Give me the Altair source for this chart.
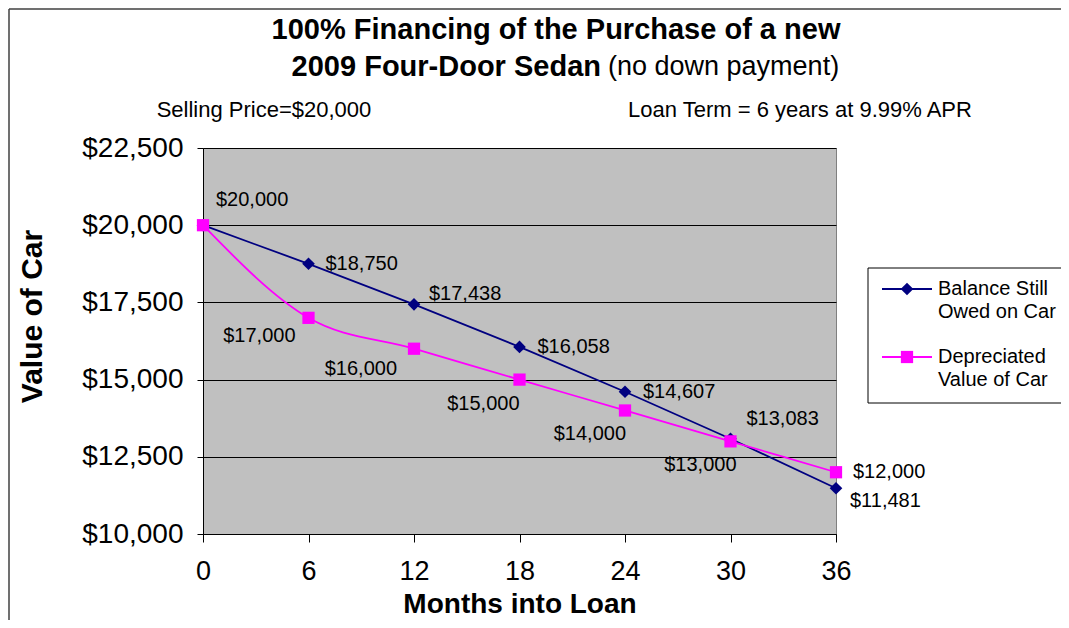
import altair as alt
import pandas as pd

# ---------------- data ----------------
months = [0, 6, 12, 18, 24, 30, 36]
balance = [20000, 18750, 17438, 16058, 14607, 13083, 11481]
depreciated = [20000, 17000, 16000, 15000, 14000, 13000, 12000]
y_ticks = [10000, 12500, 15000, 17500, 20000, 22500]
series_lines = [["Balance Still", "Owed on Car"], ["Depreciated", "Value of Car"]]

# label offsets (pixels) per point: (dx, dy, align); None = no label
bal_offsets = [(13, -25, "left"), (17, 0, "left"), (15, -10, "left"), (18, 0, "left"),
               (18, 0, "left"), (16, -20, "left"), (14, 13, "left")]
dep_offsets = [None, (-13, 18, "right"), (-17, 20, "right"), (0, 24, "right"),
               (1, 24, "right"), (6, 24, "right"), (17, 0, "left")]

FONT = "Liberation Sans"
NAVY = "#000080"
MAGENTA = "#FF00FF"
W, H = 633, 386

df_bal = pd.DataFrame({"month": months, "value": balance,
                       "label": [f"${v:,}" for v in balance], "idx": range(len(months))})
df_dep = pd.DataFrame({"month": months, "value": depreciated,
                       "label": [f"${v:,}" for v in depreciated], "idx": range(len(months))})

x_enc = alt.X("month:Q", scale=alt.Scale(domain=[0, 36], nice=False),
              axis=alt.Axis(values=months, title="Months into Loan", grid=False,
                            labelFont=FONT, labelFontSize=27, labelColor="black",
                            labelFlush=False, labelOverlap=False,
                            labelPadding=16, tickSize=8, tickColor="black",
                            domainColor="black", titleFont=FONT, titleFontSize=28,
                            titleFontWeight="bold", titleColor="black", titlePadding=6))
y_enc = alt.Y("value:Q", scale=alt.Scale(domain=[10000, 22500], nice=False, zero=False),
              axis=alt.Axis(values=y_ticks, format="$,.0f", title="Value of Car", grid=True,
                            gridColor="black", gridWidth=1,
                            labelFont=FONT, labelFontSize=28, labelColor="black",
                            labelFlush=False, labelOverlap=False,
                            labelPadding=14, tickSize=6, tickColor="black",
                            domainColor="black", titleFont=FONT, titleFontSize=30,
                            titleFontWeight="bold", titleColor="black",
                            titleAngle=270, titleX=-171, titleY=168,
                            titleAlign="center", titleBaseline="middle"))

enc = dict(x=x_enc, y=y_enc)

bal_line = alt.Chart(df_bal).mark_line(color=NAVY, strokeWidth=1.8).encode(**enc)
bal_pts = alt.Chart(df_bal).mark_point(shape="diamond", filled=True, color=NAVY,
                                       size=160, opacity=1).encode(**enc)
dep_line = alt.Chart(df_dep).mark_line(color=MAGENTA, strokeWidth=1.8,
                                       interpolate="monotone").encode(**enc)
dep_pts = alt.Chart(df_dep).mark_point(shape="square", filled=True, color=MAGENTA,
                                       size=150, opacity=1).encode(**enc)

layers = [bal_line, bal_pts, dep_line, dep_pts]

for df, offs in ((df_bal, bal_offsets), (df_dep, dep_offsets)):
    for i, off in enumerate(offs):
        if off is None:
            continue
        dx, dy, al = off
        layers.append(
            alt.Chart(df).transform_filter(alt.datum.idx == i)
            .mark_text(font=FONT, fontSize=20, color="black", align=al,
                       baseline="middle", dx=dx, dy=dy)
            .encode(text="label:N", **enc)
        )

# ---------------- titles / annotations ----------------
def txt(s, x, y, size, weight="normal", align="center"):
    return alt.Chart(df_bal.head(1)).mark_text(
        text=s, font=FONT, fontSize=size, fontWeight=weight, color="black",
        align=align, baseline="middle"
    ).encode(x=alt.value(x), y=alt.value(y))

layers += [
    txt("100% Financing of the Purchase of a new", 353, -118, 29, "bold"),
    txt("2009 Four-Door Sedan", 398, -81, 29, "bold", "right"),
    txt("(no down payment)", 405, -81, 27, "normal", "left"),
    txt("Selling Price=$20,000", 61, -38, 22),
    txt("Loan Term = 6 years at 9.99% APR", 597, -38, 22),
]

# ---------------- legend (manual) ----------------
one = df_bal.head(1)
legend_box = alt.Chart(one).mark_rect(fill="white", stroke="black", strokeWidth=1).encode(
    x=alt.value(665), x2=alt.value(900), y=alt.value(120), y2=alt.value(255))
layers.append(legend_box)
for k, (col, shp, sz, ly) in enumerate(((NAVY, "diamond", 160, 141), (MAGENTA, "square", 150, 209))):
    layers.append(alt.Chart(one).mark_rule(color=col, strokeWidth=2).encode(
        x=alt.value(679), x2=alt.value(729), y=alt.value(ly)))
    layers.append(alt.Chart(one).mark_point(shape=shp, filled=True, color=col, size=sz,
                                            opacity=1).encode(x=alt.value(704), y=alt.value(ly)))
    layers.append(txt(series_lines[k][0], 735, ly, 20, align="left"))
    layers.append(txt(series_lines[k][1], 735, ly + 23, 20, align="left"))

# outer frame (left and top edges)
layers.append(alt.Chart(one).mark_rule(color="#404040", strokeWidth=1.5).encode(
    x=alt.value(-194), y=alt.value(-139), y2=alt.value(480)))
layers.append(alt.Chart(one).mark_rule(color="#404040", strokeWidth=1.5).encode(
    x=alt.value(-194), x2=alt.value(900), y=alt.value(-139)))

chart = alt.layer(*layers).properties(
    width=W, height=H,
    autosize=alt.AutoSizeParams(type="none"),
    padding={"left": 195, "top": 140, "right": 225, "bottom": 86},
    background="white",
).configure_view(fill="#C0C0C0", stroke="#808080", strokeWidth=1)

chart.save("out.html", embed_options={"renderer": "svg", "actions": False})
